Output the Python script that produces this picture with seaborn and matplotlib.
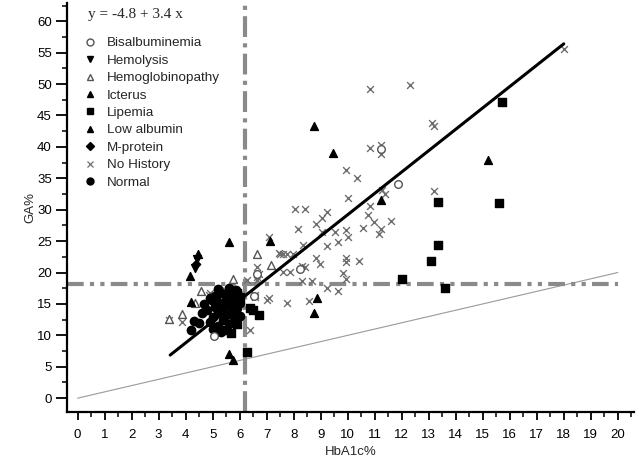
import matplotlib
matplotlib.use("Agg")
import matplotlib.pyplot as plt
import seaborn as sns
import pandas as pd
from matplotlib.lines import Line2D
from matplotlib.ticker import MultipleLocator

sns.set_style("ticks")
plt.rcParams['font.family'] = ['Liberation Sans', 'DejaVu Sans']

# --- data (HbA1c %, GA %) ---
bisalb_x = [5.06, 6.54, 8.24, 11.86, 11.23, 6.64]
bisalb_y = [9.9, 16.2, 20.6, 34.1, 39.6, 19.8]

hemolysis_x = [4.44, 4.35]
hemolysis_y = [22.2, 20.7]

hemoglobin_x = [6.66, 7.16, 5.77, 4.56, 4.35, 3.86, 3.40]
hemoglobin_y = [23.0, 21.2, 19.0, 17.0, 15.2, 13.4, 12.6]

icterus_x = [4.47, 5.62, 8.76, 9.45, 15.2]
icterus_y = [22.9, 24.8, 43.4, 39.1, 37.9]

lipemia_x = [5.9, 6.02, 6.4, 6.7, 5.5, 5.68, 6.27, 6.5, 5.9,
             12.0, 13.1, 13.33, 13.6, 13.35, 15.6, 15.73]
lipemia_y = [16.7, 16.1, 14.3, 13.3, 10.8, 10.3, 7.4, 14.1, 11.8,
             18.9, 21.8, 24.4, 17.6, 31.3, 31.1, 47.2]

lowalb_x = [4.17, 4.19, 5.59, 5.77, 7.13, 8.86, 8.76, 11.23]
lowalb_y = [19.5, 15.3, 7.1, 6.1, 25.0, 15.9, 13.6, 31.5]

mprotein_x = [4.39]
mprotein_y = [21.4]

nohist_x = [18.0, 13.13, 13.2, 10.83, 12.31, 10.83, 11.23, 11.23, 9.93, 10.34,
            13.2, 11.27, 11.39, 10.03, 10.83, 8.06, 8.43, 9.23, 9.04, 8.82,
            8.16, 9.04, 9.54, 9.93, 10.03, 10.55, 10.75, 10.96, 11.24, 11.17,
            11.61, 9.23, 9.64, 8.36, 7.96, 7.75, 7.5, 7.62, 8.83, 8.96,
            9.94, 9.93, 10.43, 8.43, 7.87, 7.62, 9.84, 9.93, 8.3, 8.67,
            9.23, 9.64, 7.75, 8.57, 7.07, 6.64, 6.7, 6.57, 7.07, 7.0,
            6.57, 6.39, 4.85, 3.86, 3.4, 4.9, 5.2, 5.46, 6.64, 6.64,
            6.27, 7.44, 8.3]
nohist_y = [55.5, 43.8, 43.4, 49.2, 49.9, 39.9, 40.3, 38.9, 36.3, 35.0,
            33.0, 33.2, 32.5, 31.8, 30.6, 30.1, 30.1, 29.7, 28.7, 27.8,
            27.0, 26.5, 26.4, 26.8, 25.7, 27.1, 29.1, 28.0, 26.9, 26.2,
            28.2, 24.3, 24.8, 24.4, 23.0, 23.0, 23.0, 23.0, 22.3, 21.3,
            22.3, 21.6, 21.8, 20.9, 20.1, 20.1, 20.0, 18.9, 18.6, 18.6,
            17.5, 17.0, 15.2, 15.4, 25.6, 20.8, 19.7, 16.1, 15.9, 15.7,
            16.4, 10.8, 16.4, 12.2, 12.4, 16.7, 16.9, 17.2, 18.8, 19.3,
            18.8, 23.1, 21.0]

normal_x = [4.2, 4.3, 4.6, 4.8, 4.9, 4.7, 5.0, 5.0, 5.1, 5.1,
            5.2, 5.2, 5.3, 5.3, 5.4, 5.4, 5.5, 5.5, 5.6, 5.6,
            5.7, 5.7, 5.8, 5.8, 5.9, 5.9, 6.0, 6.0, 5.3, 5.0,
            4.5, 5.2, 5.6, 4.9, 5.45, 5.35, 5.75, 5.15, 5.65, 5.85]
normal_y = [10.8, 12.3, 13.5, 14.0, 12.2, 15.0, 15.5, 13.0, 14.5, 16.2,
            11.5, 13.8, 15.0, 16.8, 12.5, 14.2, 15.6, 13.2, 16.4, 11.8,
            14.8, 13.5, 15.8, 12.4, 14.3, 16.9, 13.1, 15.2, 10.5, 11.0,
            12.0, 17.3, 17.5, 16.0, 14.9, 13.6, 16.0, 15.4, 15.0, 17.2]

groups = ["Bisalbuminemia", "Hemolysis", "Hemoglobinopathy", "Icterus", "Lipemia",
          "Low albumin", "M-protein", "No History", "Normal"]
group_xy = [(bisalb_x, bisalb_y), (hemolysis_x, hemolysis_y),
            (hemoglobin_x, hemoglobin_y), (icterus_x, icterus_y),
            (lipemia_x, lipemia_y), (lowalb_x, lowalb_y),
            (mprotein_x, mprotein_y), (nohist_x, nohist_y),
            (normal_x, normal_y)]

# regression line and reference lines
intercept, slope = -4.8, 3.4
fit_x = [3.43, 18.0]
cut_hba1c = 6.2
cut_ga = 18.2
identity_x = [0, 20]

# marker style per group: marker, facecolor, edgecolor, size
styles = {
    "Bisalbuminemia": ("o", "white", "#555555", 30),
    "Hemolysis": ("v", "black", "black", 32),
    "Hemoglobinopathy": ("^", "white", "#555555", 32),
    "Icterus": ("^", "black", "black", 32),
    "Lipemia": ("s", "black", "black", 30),
    "Low albumin": ("^", "black", "black", 32),
    "M-protein": ("D", "black", "black", 18),
    "No History": ("x", "#6e6e6e", "#6e6e6e", 24),
    "Normal": ("o", "black", "black", 36),
}

frames = []
for g, (xs, ys) in zip(groups, group_xy):
    frames.append(pd.DataFrame({"HbA1c": xs, "GA": ys, "group": g}))
df = pd.concat(frames, ignore_index=True)

fig = plt.figure(figsize=(6.36, 4.65), dpi=100)
ax = fig.add_axes([67 / 636, 53 / 465, 567 / 636, 409 / 465])

# identity line (GA = HbA1c)
ax.plot(identity_x, identity_x, color="#9a9a9a", lw=0.8, zorder=1)

# cutoff lines
ax.axvline(cut_hba1c, color="#8a8a8a", lw=3, ls=(0, (5, 1.5, 1, 1.5)), zorder=1)
ax.plot([-0.4, 20.0], [cut_ga, cut_ga], color="#8a8a8a", lw=3,
        ls=(0, (4, 1.5, 1, 1.5, 1, 1.5)), zorder=1)

# draw "No History" first so filled markers sit on top
order = ["No History", "Normal", "Bisalbuminemia", "Hemoglobinopathy", "Lipemia",
         "Icterus", "Low albumin", "Hemolysis", "M-protein"]
for g in order:
    m, fc, ec, s = styles[g]
    sub = df[df["group"] == g]
    if m == "x":
        sns.scatterplot(data=sub, x="HbA1c", y="GA", marker="x", color=fc,
                        s=s, linewidth=1.0, ax=ax, zorder=3, legend=False)
    else:
        sns.scatterplot(data=sub, x="HbA1c", y="GA", marker=m, facecolor=fc,
                        edgecolor=ec, s=s, linewidth=1.0, ax=ax, zorder=4,
                        legend=False)

# regression line
ax.plot(fit_x, [intercept + slope * v for v in fit_x], color="black", lw=2.2, zorder=5)

ax.set_xlim(-0.39, 20.6)
ax.set_ylim(-2.2, 62.9)
ax.xaxis.set_major_locator(MultipleLocator(1))
ax.xaxis.set_minor_locator(MultipleLocator(0.5))
ax.yaxis.set_major_locator(MultipleLocator(5))
ax.yaxis.set_minor_locator(MultipleLocator(2.5))
ax.tick_params(axis="both", which="major", direction="out", width=1.3,
               labelsize=9.5, colors="black")
ax.tick_params(axis="x", which="major", length=6, pad=6)
ax.tick_params(axis="y", which="major", length=8, pad=3)
ax.tick_params(axis="both", which="minor", direction="out", width=1.3, length=3.5)
for side in ["top", "right"]:
    ax.spines[side].set_visible(False)
for side in ["left", "bottom"]:
    ax.spines[side].set_linewidth(1.6)
    ax.spines[side].set_color("black")

ax.set_xlabel("HbA1c%", fontsize=9.5, labelpad=4)
ax.set_ylabel("GA%", fontsize=9.5, labelpad=0)

ax.text(0.037, 0.973, "y = -4.8 + 3.4 x", transform=ax.transAxes,
        family=["Liberation Serif", "DejaVu Serif"], fontsize=11,
        va="center", ha="left")

handles = []
for g in groups:
    m, fc, ec, s = styles[g]
    if m == "x":
        h = Line2D([], [], ls="none", marker="x", color=fc, markersize=5,
                   markeredgewidth=0.9)
    else:
        h = Line2D([], [], ls="none", marker=m, markerfacecolor=fc,
                   markeredgecolor=ec, markersize=5 if m != "D" else 4,
                   markeredgewidth=1.0)
    handles.append(h)
ax.legend(handles, groups, loc="upper left", bbox_to_anchor=(0.014, 0.94),
          frameon=False, fontsize=9.7, handlelength=0.9, handletextpad=0.75,
          labelspacing=0.37, borderaxespad=0.3)

fig.savefig("out.png", dpi=100)
